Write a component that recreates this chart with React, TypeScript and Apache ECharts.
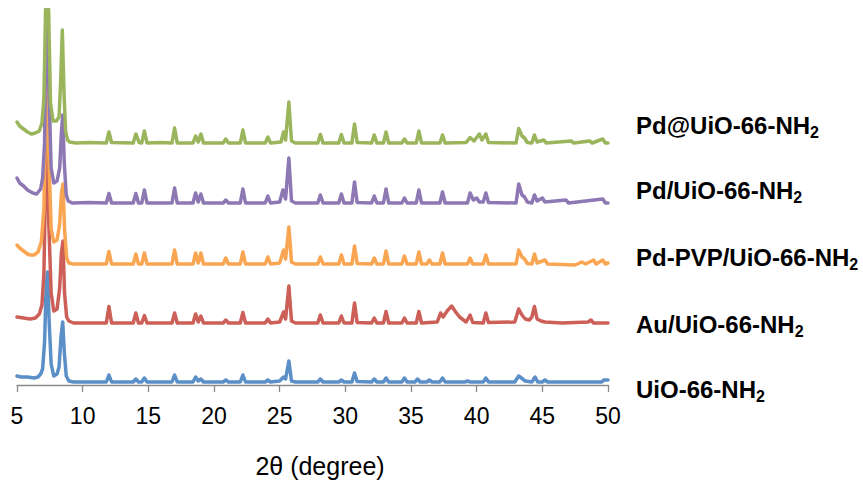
import React, { useEffect, useRef } from "react";
import * as echarts from "echarts";

// 2θ (degree) vs intensity (a.u., relative to each pattern's own baseline)
const uioNH2: number[][] = [
  [5.0, 6], [5.3, 5], [5.8, 5], [6.3, 4], [6.6, 5], [6.8, 8], [6.95, 13], [7.1, 40], [7.22, 95], [7.32, 110], [7.45, 60], [7.6, 18], [7.8, 6], [8.05, 8], [8.2, 15], [8.35, 45], [8.48, 60], [8.6, 30], [8.75, 6], [8.95, 1], [9.3, 0],
  [11.8, 0], [12.0, 7], [12.2, 0], [13.85, 0], [14.05, 3], [14.25, 0], [14.5, 0], [14.7, 4], [14.9, 0], [16.8, 0], [17.0, 7], [17.2, 0], [18.4, 0], [18.6, 5], [18.8, 1], [19.0, 3], [19.2, 0], [20.7, 0], [20.9, 2], [21.1, 0], [22.0, 0], [22.2, 7], [22.4, 0], [23.9, 0], [24.1, 2], [24.3, 0],
  [25.0, 1], [25.3, 5], [25.45, 3], [25.7, 21], [25.9, 1], [26.2, 0], [27.9, 0], [28.1, 3], [28.3, 0], [29.5, 0], [29.7, 2], [29.9, 0], [30.5, 0], [30.7, 9], [30.9, 0.5], [32.0, 0], [32.2, 3], [32.4, 0], [32.9, 0], [33.1, 4], [33.3, 0], [34.3, 0], [34.5, 4], [34.7, 0],
  [35.3, 0], [35.5, 3], [35.7, 0], [36.2, 0], [36.4, 2], [36.6, 0], [37.2, 0], [37.4, 4], [37.6, 0], [39.1, 0], [39.3, 1], [39.5, 0], [40.5, 0], [40.7, 4], [40.9, 0], [42.9, 0], [43.2, 6], [43.5, 3], [43.7, 1], [44.2, 0], [44.45, 5], [44.65, 0], [45.0, 0], [45.2, 2], [45.4, 0], [49.5, 0], [49.7, 2], [50.0, 2],
];

const auUiO: number[][] = [
  [5.0, 6], [5.5, 5], [6.0, 4], [6.4, 5], [6.7, 9], [6.9, 18], [7.05, 50], [7.2, 160], [7.3, 190], [7.42, 100], [7.6, 30], [7.8, 12], [8.05, 14], [8.25, 35], [8.38, 70], [8.5, 82], [8.62, 30], [8.78, 6], [8.95, 2], [9.3, 0],
  [11.8, 0], [12.0, 16.5], [12.2, 0], [13.85, 0], [14.05, 10], [14.25, 0], [14.5, 0], [14.7, 7.5], [14.9, 0], [16.8, 0], [17.0, 10], [17.2, 0], [18.4, 0], [18.6, 9], [18.8, 1], [19.0, 7], [19.2, 0], [20.7, 0], [20.9, 3], [21.1, 0], [22.0, 0], [22.2, 10.5], [22.4, 0], [23.9, 0], [24.1, 4], [24.3, 0],
  [25.0, 1], [25.3, 11], [25.45, 4], [25.7, 37], [25.9, 2], [26.2, 0], [27.9, 0], [28.1, 8], [28.3, 0], [29.5, 0], [29.7, 7], [29.9, 0], [30.5, 0], [30.7, 20], [30.9, 0.5], [32.0, 0], [32.2, 5], [32.4, 0], [32.9, 0], [33.1, 11.5], [33.3, 0], [34.3, 0], [34.5, 5], [34.7, 0],
  [35.4, 0], [35.6, 11.5], [35.8, 0], [37.0, 1], [37.25, 10], [37.45, 6], [37.75, 12], [38.1, 17], [38.4, 11], [38.7, 6], [39.0, 3], [39.2, 1], [39.5, 8], [39.7, 0.5], [40.5, 0], [40.7, 10], [40.9, 0.5], [42.9, 1], [43.2, 14], [43.45, 8], [43.7, 4], [44.0, 3], [44.2, 6], [44.4, 16.5], [44.6, 4], [44.9, 2], [45.2, 1], [46.5, 0], [48.5, 1], [48.7, 3], [48.9, 0], [50.0, 0],
];

const pdPvpUiO: number[][] = [
  [5.0, 19], [5.2, 16], [5.5, 13], [5.8, 10], [6.0, 9], [6.3, 9], [6.6, 12], [6.85, 22], [7.05, 55], [7.2, 170], [7.3, 200], [7.42, 110], [7.6, 35], [7.8, 22], [8.05, 24], [8.25, 40], [8.38, 70], [8.5, 80], [8.62, 35], [8.78, 6], [8.95, 1], [9.3, 0],
  [11.8, 0], [12.0, 12.5], [12.2, 0], [13.85, 0], [14.05, 10], [14.25, 0], [14.5, 0], [14.7, 11], [14.9, 0], [16.8, 0], [17.0, 14], [17.2, 0], [18.4, 0], [18.6, 11], [18.8, 1], [19.0, 11], [19.2, 0], [20.7, 0], [20.9, 6], [21.1, 0], [22.0, 0], [22.2, 12], [22.4, 0], [23.9, 0], [24.1, 7], [24.3, 0],
  [25.0, 1], [25.3, 14], [25.45, 5], [25.7, 37], [25.9, 2], [26.2, 0], [27.9, 0], [28.1, 7], [28.3, 0], [29.5, 0], [29.7, 9], [29.9, 0], [30.5, 0], [30.7, 18], [30.9, 0.5], [32.0, 0], [32.2, 6], [32.4, 0], [32.9, 0], [33.1, 13], [33.3, 0], [34.3, 0], [34.5, 8], [34.7, 0],
  [35.4, 0], [35.6, 12], [35.8, 0], [36.2, 0], [36.4, 4], [36.6, 0], [37.2, 0], [37.4, 11], [37.6, 0], [39.3, 0], [39.5, 6], [39.7, 0], [40.5, 0], [40.7, 9], [40.9, 0], [43.0, 0], [43.2, 14], [43.45, 7], [43.65, 5], [43.85, 0.5], [44.2, 0], [44.4, 10], [44.6, 1], [45.2, 4], [45.4, 0], [47.5, -1], [48.0, 2], [48.3, 0], [48.9, 4], [49.1, 0], [49.6, 4], [49.8, 0], [50.0, 1],
];

const pdUiO: number[][] = [
  [5.0, 25], [5.2, 20], [5.5, 17], [5.8, 13], [6.2, 10], [6.5, 9], [6.8, 14], [6.95, 25], [7.1, 60], [7.22, 200], [7.3, 210], [7.42, 120], [7.6, 35], [7.8, 20], [8.05, 22], [8.25, 35], [8.38, 70], [8.48, 88], [8.6, 40], [8.75, 8], [8.9, 2], [9.2, 0],
  [10.5, 0.5], [11.8, 0], [12.0, 9.5], [12.2, 0], [13.85, 0], [14.05, 9.5], [14.25, 0], [14.5, 0], [14.7, 13], [14.9, 0], [16.8, 0], [17.0, 15], [17.2, 0], [18.4, 0], [18.6, 10], [18.8, 1], [19.0, 9], [19.2, 0], [20.7, 0], [20.9, 3], [21.1, 0], [22.0, 0], [22.2, 14], [22.4, 0], [23.9, 0], [24.1, 7], [24.3, 0],
  [25.0, 1], [25.25, 13], [25.45, 4], [25.7, 45], [25.9, 2], [26.2, 0], [27.9, 0], [28.1, 8], [28.3, 0], [29.5, 0], [29.7, 9], [29.9, 0], [30.5, 0], [30.7, 21], [30.9, 0.5], [32.0, 0], [32.2, 7], [32.4, 0], [32.9, 0], [33.1, 14], [33.3, 0], [34.3, 0], [34.5, 5], [34.7, 0],
  [35.4, 0], [35.6, 13], [35.8, 0], [37.2, 0], [37.4, 11], [37.6, 0], [39.3, 0], [39.5, 10], [39.75, 3], [40.0, 5], [40.2, 1], [40.5, 1], [40.7, 10], [40.9, 0.5], [43.0, 0], [43.2, 19], [43.45, 8], [43.65, 6], [43.85, 1], [44.2, 0], [44.4, 8], [44.6, 2], [45.0, 5], [45.2, 1], [46.8, 3], [47.0, 0], [49.6, 4], [49.8, 0], [50.0, 0],
];

const pdAtUiO: number[][] = [
  [5.0, 21], [5.2, 17], [5.5, 14], [5.8, 11], [6.1, 9], [6.4, 10], [6.7, 12], [6.9, 20], [7.05, 45], [7.2, 150], [7.28, 260], [7.38, 150], [7.55, 40], [7.75, 22], [8.0, 22], [8.2, 26], [8.32, 60], [8.45, 113], [8.58, 50], [8.7, 12], [8.85, 3], [9.0, 1], [9.5, 0],
  [10.5, 0.5], [11.8, 0], [12.0, 11], [12.2, 0.5], [13.85, 0], [14.05, 9], [14.3, 0.5], [14.5, 0], [14.7, 12], [14.9, 0], [16.0, 0.5], [16.8, 0], [17.0, 15], [17.2, 0], [18.4, 0], [18.6, 7], [18.8, 1], [19.0, 9], [19.2, 0], [20.7, 0], [20.9, 4], [21.1, 0], [22.0, 0], [22.2, 13], [22.4, 0], [23.9, 0], [24.1, 6], [24.3, 0],
  [25.1, 1], [25.3, 11], [25.45, 3], [25.7, 41], [25.9, 2], [26.2, 0], [27.9, 0], [28.1, 8.5], [28.3, 0], [29.5, 0], [29.7, 8.5], [29.9, 0], [30.5, 0], [30.7, 19], [30.9, 0.5], [32.0, 0], [32.2, 8], [32.4, 0], [32.9, 0], [33.1, 11], [33.3, 0], [34.3, 0], [34.5, 4], [34.7, 0],
  [35.4, 0], [35.6, 12], [35.8, 0], [37.2, 0], [37.4, 8], [37.6, 0], [39.2, 0.5], [39.5, 5.5], [39.8, 2], [40.2, 9], [40.4, 3], [40.7, 9], [40.9, 0.5], [43.0, 0], [43.2, 14.5], [43.45, 7], [43.65, 5], [43.85, 0.5], [44.2, 0], [44.4, 8], [44.6, 1], [45.1, 3], [45.3, 0], [47.2, 2], [47.4, 0], [48.6, 2], [48.8, 0], [49.6, 4], [49.8, 0], [50.0, 0],
];

// bottom to top
const sampleNames = ["UiO-66-NH", "Au/UiO-66-NH", "Pd-PVP/UiO-66-NH", "Pd/UiO-66-NH", "Pd@UiO-66-NH"];
const patterns = [uioNH2, auUiO, pdPvpUiO, pdUiO, pdAtUiO];
const stackOffsets = [3, 62, 121, 182, 242];
const lineColors = ["#5B8FC8", "#CC5F57", "#F9A552", "#8E78B4", "#9AB55B"];
const xTicks = [5, 50, 5]; // min, max, interval

const LABEL_X = 636;
const LABEL_Y = [389, 324.7, 257.7, 190, 125.7];
const FONT = "'Liberation Sans', Arial, sans-serif";

export default function App() {
  const ref = useRef<HTMLDivElement>(null);

  useEffect(() => {
    if (!ref.current) return;
    const chart = echarts.init(ref.current, undefined, { renderer: "svg" });

    const series = patterns.map((pts, i) => ({
      type: "line" as const,
      name: sampleNames[i] + "2",
      data: pts.map(([x, y]) => [x, y + stackOffsets[i]]),
      showSymbol: false,
      symbol: "none",
      clip: true,
      lineStyle: { color: lineColors[i], width: 3.5, join: "round", cap: "round" },
      itemStyle: { color: lineColors[i] },
      z: 2 + i,
    }));

    const labels = sampleNames.map((n, i) => ({
      type: "text" as const,
      x: LABEL_X,
      y: LABEL_Y[i],
      style: {
        text: "{m|" + n + "}{s|2}",
        verticalAlign: "middle",
        align: "left",
        rich: {
          m: {
            fontFamily: FONT,
            fontWeight: "bold",
            fontSize: 24,
            lineHeight: 30,
            fill: "#000",
            color: "#000",
            verticalAlign: "middle",
          },
          s: {
            fontFamily: FONT,
            fontWeight: "bold",
            fontSize: 16,
            lineHeight: 10,
            fill: "#000",
            color: "#000",
            verticalAlign: "bottom",
          },
        },
      },
    }));

    chart.setOption({
      animation: false,
      backgroundColor: "#ffffff",
      grid: { left: 17, right: 255, top: 10, bottom: 100, containLabel: false, outerBoundsMode: "none" },
      xAxis: {
        type: "value",
        min: xTicks[0],
        max: xTicks[1],
        interval: xTicks[2],
        name: "2θ (degree)",
        nameLocation: "middle",
        nameGap: 68,
        nameTextStyle: { fontFamily: FONT, fontSize: 25, color: "#000", padding: [0, 0, 0, 15] },
        axisLine: { show: true, onZero: false, lineStyle: { color: "#8A8A8A", width: 1.3 } },
        axisTick: { show: true, inside: false, length: 7, lineStyle: { color: "#8A8A8A", width: 1.3 } },
        axisLabel: { margin: 19, fontFamily: FONT, fontSize: 23, color: "#000" },
        splitLine: { show: false },
      },
      yAxis: {
        type: "value",
        min: 0,
        max: 375,
        show: false,
        splitLine: { show: false },
      },
      series,
      graphic: labels,
    });

    return () => chart.dispose();
  }, []);

  return (
    <div
      ref={ref}
      style={{ position: "fixed", left: 0, top: 0, width: 863, height: 485, background: "#fff" }}
    />
  );
}
